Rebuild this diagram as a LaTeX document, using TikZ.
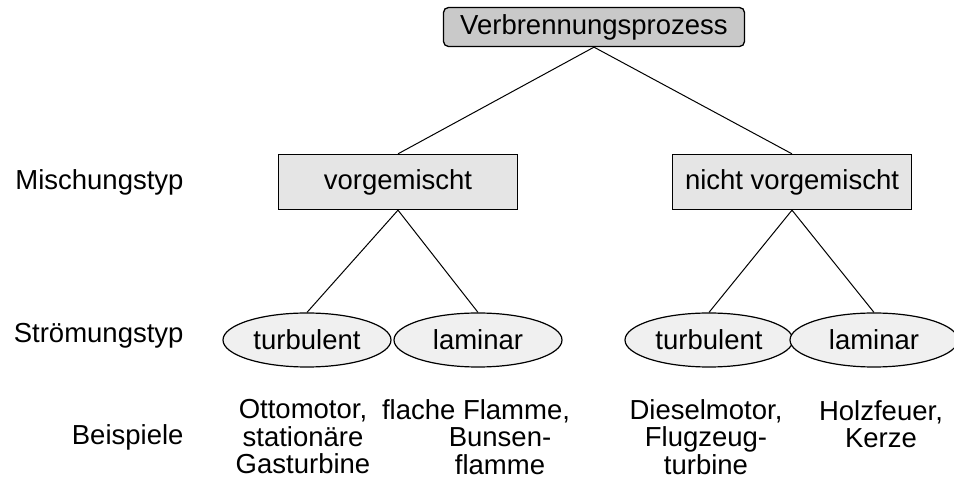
\documentclass[tikz,border=0pt]{standalone}
\usepackage{fontspec}
\setmainfont{Liberation Sans}
\usetikzlibrary{shapes.geometric}

\begin{document}
\begin{tikzpicture}[x=1pt,y=-1pt,line width=1pt,
  font=\fontsize{27.5}{27.5}\selectfont,
  top node/.style={rectangle,rounded corners=5pt,draw,line width=1.3pt,fill=gray!42,
    minimum width=301pt,minimum height=39pt,inner sep=0pt},
  mix node/.style={rectangle,draw,line width=1.3pt,fill=gray!20,
    minimum width=239pt,minimum height=55pt,inner sep=0pt},
  flow node/.style={ellipse,draw,line width=1.2pt,fill=gray!12,
    minimum width=168pt,minimum height=54pt,inner sep=0pt},
  row label/.style={anchor=east,inner sep=0pt},
  example/.style={align=center,inner sep=0pt}]
   \useasboundingbox (0,0) rectangle (954,486);
   % Baum
   \node[top node]  (V)   at (594,27)  {Verbrennungsprozess};
   \node[mix node]  (vm)  at (398,182) {vorgemischt};
   \node[mix node]  (nvm) at (792,182) {nicht vorgemischt};
   \node[flow node] (vmt) at (307,340) {turbulent};
   \node[flow node] (vml) at (478,340) {laminar};
   \node[flow node] (nvmt) at (709,340) {turbulent};
   \node[flow node] (nvml) at (874,340) {laminar};
   \path
    (V.south)   edge (vm.north)
                edge (nvm.north)
    (vm.south)  edge (vmt.north)
                edge (vml.north)
    (nvm.south) edge (nvmt.north)
                edge (nvml.north);
   % Zeilen
   \node[row label] (mix)  at (184,182) {Mischungstyp};
   \node[row label] (flow) at (184,336) {Strömungstyp};
   \node[row label] (ex)   at (184,437) {Beispiele};
   % Beispiele
   \node[example] (ex1) at (303,437) {Ottomotor,\\stationäre\\Gasturbine};
   \node[example] (ex2) at (500,437) {\hspace*{-48pt}flache Flamme,\\Bunsen-\\flamme};
   \node[example] (ex3) at (706,437) {Dieselmotor,\\Flugzeug-\\turbine};
   \node[example] (ex4) at (881,424) {Holzfeuer,\\Kerze};
\end{tikzpicture}
\end{document}
